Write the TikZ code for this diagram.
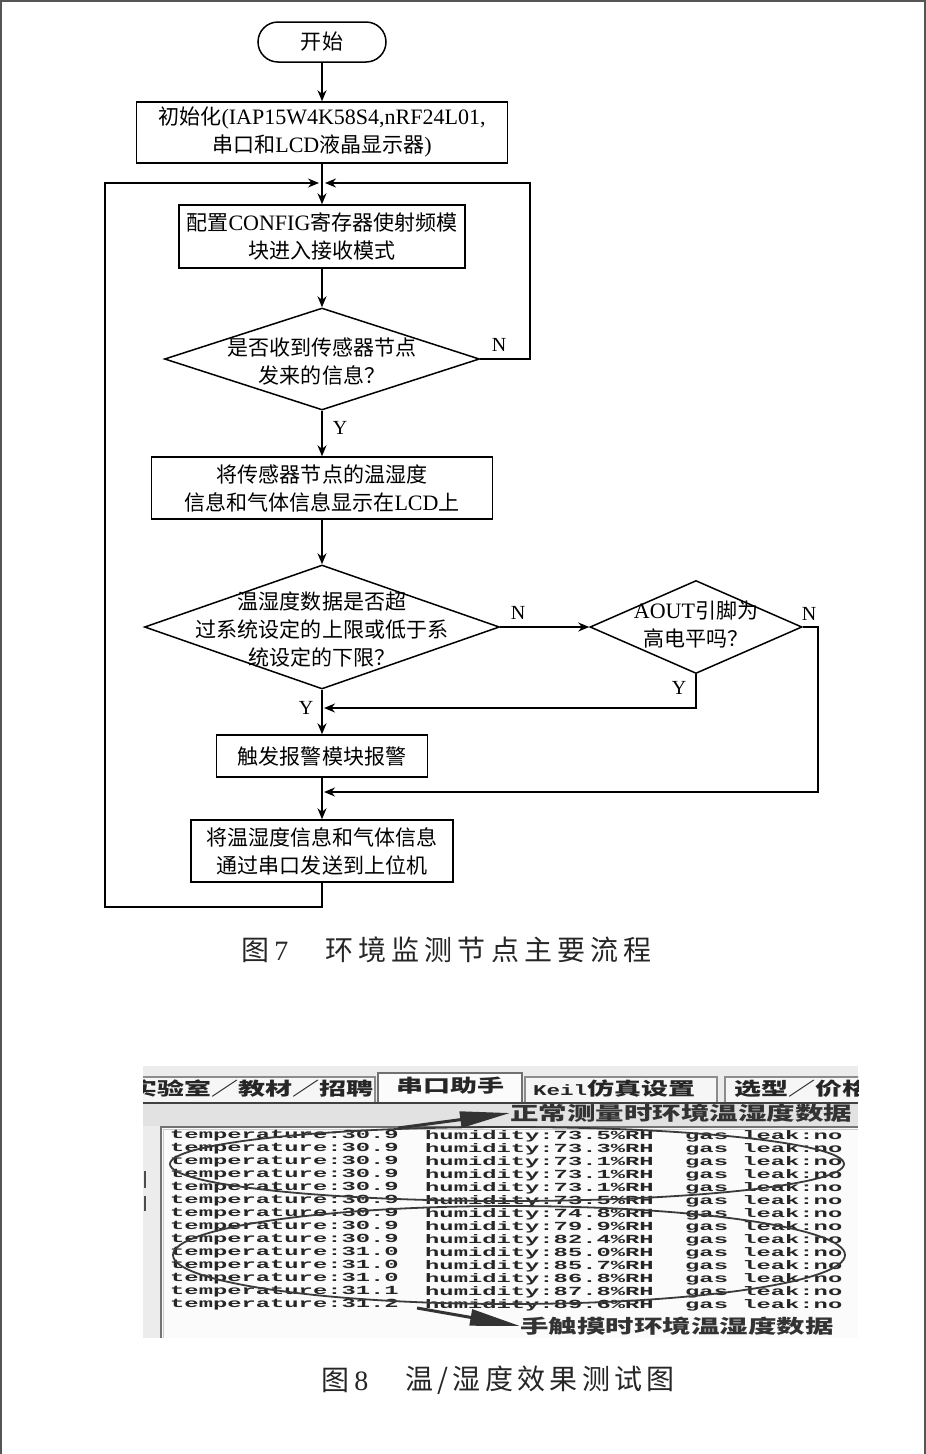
\documentclass[tikz,border=0pt]{standalone}
\usepackage{fontspec}
\usepackage{graphicx}
\setmainfont{Liberation Serif}
\newfontfamily\cjk[Scale=0.955]{Noto Sans CJK SC}
\newfontfamily\cjkn{Noto Sans CJK SC}
\newfontfamily\monof{Liberation Mono}
\usetikzlibrary{shapes.geometric,arrows.meta,calc}
\newcommand{\zh}[1]{{\cjk #1}}
\definecolor{framec}{HTML}{555555}
\definecolor{ssbg}{HTML}{ECECEC}
\definecolor{tabfill}{HTML}{F6F6F6}
\definecolor{tabline}{HTML}{8C8C8C}
\definecolor{stripc}{HTML}{E2E2E2}
\definecolor{txtc}{HTML}{262626}
\definecolor{ovalc}{HTML}{3A3A3A}
\definecolor{areac}{HTML}{FBFBFB}
\tikzset{
  fc/.style={draw, line width=1.5pt, inner sep=0pt, align=center, font=\fontsize{22}{28}\selectfont},
  boxn/.style={fc, rectangle},
  dia/.style={draw, line width=1.5pt, diamond, inner sep=0pt},
  txt/.style={align=center, inner sep=0pt, font=\fontsize{22}{28}\selectfont},
  ln/.style={line width=1.5pt},
  arr/.style={ln, -{Stealth[length=11pt,width=9pt]}},
  yn/.style={inner sep=0pt, font=\fontsize{20}{20}\selectfont},
  capt/.style={inner sep=0pt, text=black!85, font=\fontsize{28}{28}\selectfont},
  mono/.style={anchor=west, inner sep=0pt, text=txtc, font=\fontsize{23.8}{24}\selectfont\monof\bfseries},
  tabtxt/.style={inner sep=0pt, text=txtc, font=\fontsize{18}{18}\selectfont\cjkn\bfseries},
  sslab/.style={anchor=west, inner sep=0pt, text=black!80, font=\fontsize{19}{19}\selectfont\cjkn\bfseries},
  oval/.style={draw=ovalc, line width=1.8pt, ellipse, inner sep=0pt},
  bigarr/.style={draw=black!80, line width=3pt, -{Triangle[length=50pt,width=16pt]}},
}
\begin{document}
\begin{tikzpicture}[x=1pt,y=-1pt]
\useasboundingbox (0,0) rectangle (926,1454);
\fill[white] (0,0) rectangle (926,1454);
% page frame
\draw[framec, line width=2.5pt] (0,1) -- (926,1);
\draw[framec, line width=1.5pt] (0.75,0) -- (0.75,1454);
\draw[framec, line width=1.5pt] (925,0) -- (925,1454);

% ---------------- flowchart ----------------
\node[fc, rectangle, rounded corners=20pt, minimum width=128pt, minimum height=40pt] (start) at (322,42) {\zh{开始}};
\node[boxn, minimum width=371pt, minimum height=61pt] (init) at (322,132.5)
  {\zh{初始化}(IAP15W4K58S4,nRF24L01,\\\zh{串口和}LCD\zh{液晶显示器})};
\node[boxn, minimum width=286pt, minimum height=63pt] (cfg) at (322,236.5)
  {\zh{配置}CONFIG\zh{寄存器使射频模}\\\zh{块进入接收模式}};
\node[dia, minimum width=315pt, minimum height=102pt] (d1) at (322,359) {};
\node[txt] (d1t) at (322,362) {\zh{是否收到传感器节点}\\\zh{发来的信息？}};
\node[boxn, minimum width=341pt, minimum height=62pt] (disp) at (322,488)
  {\zh{将传感器节点的温湿度}\\\zh{信息和气体信息显示在}LCD\zh{上}};
\node[dia, minimum width=355pt, minimum height=124pt] (d2) at (322,627) {};
\node[txt] (d2t) at (322,629) {\zh{温湿度数据是否超}\\\zh{过系统设定的上限或低于系}\\\zh{统设定的下限？}};
\node[dia, minimum width=212pt, minimum height=93pt] (d3) at (696,627) {};
\node[txt] (d3t) at (696,625) {AOUT\zh{引脚为}\\\zh{高电平吗？}};
\node[boxn, minimum width=211pt, minimum height=42pt] (alarm) at (322,756) {\zh{触发报警模块报警}};
\node[boxn, minimum width=262pt, minimum height=62pt] (send) at (322,851)
  {\zh{将温湿度信息和气体信息}\\\zh{通过串口发送到上位机}};

\coordinate (j1) at (322,183);
\coordinate (rtop) at (530,183);
\coordinate (lbot) at (105,907);
\coordinate (ltop) at (105,183);
\coordinate (j2) at (322,708);
\coordinate (j3) at (322,792);
\coordinate (rr) at (818,792);

\draw[arr] (start) -- (init);
\draw[ln] (init) -- (j1);
\draw[arr] (j1) -- (cfg);
\draw[arr] (cfg) -- (d1);
\draw[arr, shorten >=3pt] (d1.east) -| (rtop) -- (j1);
\draw[arr] (d1) -- (disp);
\draw[arr] (disp) -- (d2);
\draw[arr] (d2.east) -- (d3.west);
\draw[arr, shorten >=2pt] (d3.south) |- (j2);
\draw[arr] (d2.south) -- (alarm.north);
\draw[arr, shorten >=2pt] (d3.east) -| (rr) -- (j3);
\draw[arr] (alarm) -- (send);
\draw[arr, shorten >=3pt] (send.south) |- (lbot) -- (ltop) -- (j1);

\node[yn] (n1) at (499,345) {N};
\node[yn] (y1) at (340,428) {Y};
\node[yn] (n2) at (518,613) {N};
\node[yn] (n3) at (809,614) {N};
\node[yn] (y3) at (679,688) {Y};
\node[yn] (y2) at (306,708) {Y};

% caption 1
\node[capt] (cap7a) at (265,950) {{\cjkn 图}\,7};
\node[capt] (cap7b) at (488.5,950) {\makebox[327pt]{\cjkn 环\hfill 境\hfill 监\hfill 测\hfill 节\hfill 点\hfill 主\hfill 要\hfill 流\hfill 程}};

% ---------------- screenshot ----------------
\begin{scope}
\clip (143,1066) rectangle (858,1338);
\fill[ssbg] (143,1066) rectangle (858,1338);
% tabs
\filldraw[fill=tabfill, draw=tabline, line width=1.2pt] (130,1103) -- (130,1077) -- (375,1077) -- (375,1103);
\filldraw[fill=tabfill, draw=tabline, line width=1.2pt] (525,1103) -- (525,1077) -- (717,1077) -- (717,1103);
\filldraw[fill=tabfill, draw=tabline, line width=1.2pt] (725,1103) -- (725,1077) -- (870,1077) -- (870,1103);
\filldraw[fill=areac, draw=tabline!80!black, line width=1.4pt] (378,1104) -- (378,1073) -- (522,1073) -- (522,1104);
\node[tabtxt] (tab1) at (252,1089) {\scalebox{1.5}[1]{实验室／教材／招聘}};
\node[tabtxt] (tab2) at (450,1086) {\scalebox{1.5}[1]{串口助手}};
\node[tabtxt, anchor=west] (tab3) at (533,1089) {\scalebox{1.5}[1]{{\fontsize{15}{15}\selectfont\monof\bfseries Keil}仿真设置}};
\node[tabtxt, anchor=west] (tab4) at (734,1089) {\scalebox{1.5}[1]{选型／价格}};
% dark line + strip
\fill[stripc] (143,1104) rectangle (858,1126);
\draw[black!75, line width=2pt] (143,1103) -- (858,1103);
% text area
\fill[areac] (161,1127) rectangle (858,1338);
\draw[black!55, line width=2pt] (161,1338) -- (161,1127) -- (858,1127);
\draw[black!20, line width=1pt] (163.5,1338) -- (163.5,1129.5) -- (858,1129.5);
% left marks
\draw[black!70, line width=2pt] (145,1171) -- (145,1188);
\draw[black!70, line width=2pt] (145,1196) -- (145,1211);
% data lines
\foreach \i/\t/\h in {0/30.9/73.5, 1/30.9/73.3, 2/30.9/73.1, 3/30.9/73.1, 4/30.9/73.1, 5/30.9/73.5, 6/30.9/74.8, 7/30.9/79.9, 8/30.9/82.4, 9/31.0/85.0, 10/31.0/85.7, 11/31.0/86.8, 12/31.1/87.8, 13/31.2/89.6} {
  \node[mono] (t\i) at (170,{1136+13*\i}) {\scalebox{1}[0.52]{temperature:\t}};
  \node[mono] (h\i) at (425,{1136+13*\i}) {\scalebox{1}[0.52]{humidity:\h\%RH}};
  \node[mono] (g\i) at (685,{1136+13*\i}) {\scalebox{1}[0.52]{gas leak:no}};
}
% ovals
\node[oval, minimum width=674pt, minimum height=74pt] (e1) at (507,1164) {};
\node[oval, minimum width=672pt, minimum height=98pt] (e2) at (509,1255) {};
% labels and arrows
\node[sslab] (lab1) at (510,1113) {\scalebox{1.5}[1]{正常测量时环境温湿度数据}};
\node[sslab] (lab2) at (520,1326) {\scalebox{1.5}[1]{手触摸时环境温湿度数据}};
\coordinate (a1) at (398,1128);
\coordinate (a2) at (417,1308);
\draw[bigarr] (a1) -- (lab1.west);
\draw[bigarr] (a2) -- (lab2.west);
\end{scope}

% caption 2
\node[capt] (cap8a) at (345,1380) {{\cjkn 图}\,8};
\node[capt] (cap8b) at (540,1380) {\makebox[270pt]{\cjkn 温\hfill /\hfill 湿\hfill 度\hfill 效\hfill 果\hfill 测\hfill 试\hfill 图}};
\end{tikzpicture}
\end{document}
